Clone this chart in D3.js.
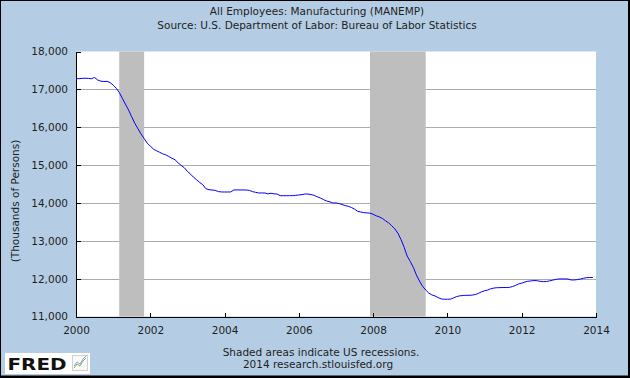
<!DOCTYPE html>
<html>
<head>
<meta charset="utf-8">
<script src="https://cdn.jsdelivr.net/npm/d3@7"></script>
<style>
  html, body { margin: 0; padding: 0; background: #fff; }
  svg { display: block; }
  text { font-family: "DejaVu Sans", Verdana, sans-serif; fill: #1e1e1e; }
</style>
</head>
<body>
<svg id="chart" width="630" height="378"></svg>
<script>
// ---- data ----
const titleLines = ["All Employees: Manufacturing (MANEMP)",
                    "Source: U.S. Department of Labor: Bureau of Labor Statistics"];
const footerLines = ["Shaded areas indicate US recessions.",
                     "2014 research.stlouisfed.org"];
const yLabel = "(Thousands of Persons)";
const seriesStart = "2000-01-01";   // monthly observations from here
const manemp = [
  // 2000
  17284, 17283, 17290, 17293, 17289, 17281, 17315, 17248, 17216, 17207, 17211, 17181,
  // 2001
  17110, 17026, 16920, 16763, 16610, 16455, 16280, 16105, 15960, 15824, 15700, 15580,
  // 2002
  15500, 15421, 15380, 15340, 15300, 15271, 15230, 15180, 15140, 15060, 14990, 14930,
  // 2003
  14832, 14760, 14680, 14613, 14540, 14482, 14376, 14350, 14340, 14332, 14300, 14290,
  // 2004
  14289, 14289, 14290, 14342, 14345, 14342, 14342, 14342, 14330, 14300, 14280, 14263,
  // 2005
  14263, 14263, 14240, 14255, 14240, 14235, 14192, 14190, 14192, 14192, 14192, 14200,
  // 2006
  14210, 14220, 14235, 14235, 14220, 14200, 14160, 14130, 14087, 14050, 14030, 14000,
  // 2007
  14000, 13982, 13960, 13929, 13912, 13880, 13840, 13780, 13760, 13745, 13737, 13730,
  // 2008
  13700, 13660, 13632, 13590, 13530, 13474, 13400, 13316, 13200, 13034, 12830, 12595,
  // 2009
  12450, 12290, 12100, 11937, 11800, 11700, 11620, 11570, 11542, 11500, 11465, 11455,
  // 2010
  11455, 11460, 11490, 11526, 11545, 11555, 11560, 11560, 11565, 11580, 11610, 11650,
  // 2011
  11680, 11700, 11730, 11750, 11760, 11763, 11765, 11765, 11768, 11790, 11820, 11860,
  // 2012
  11880, 11910, 11930, 11940, 11950, 11945, 11930, 11920, 11925, 11940, 11960, 11980,
  // 2013
  11992, 11992, 11992, 11990, 11965, 11965, 11975, 11990, 12010, 12026, 12030, 12030
];
const recessionStarts = ["2001-03-01", "2007-12-01"];
const recessionEnds   = ["2001-11-01", "2009-06-01"];
const xDomain = ["2000-01-01", "2014-01-01"];
const yDomain = [11000, 18000];
const yTicks = [11000, 12000, 13000, 14000, 15000, 16000, 17000, 18000];
const xTickYears = [2000, 2002, 2004, 2006, 2008, 2010, 2012, 2014];

// ---- layout ----
const W = 630, H = 378;
const L = 76, R = 596, T = 51.5, B = 316.5;
const parse = d3.utcParse("%Y-%m-%d");
const start = parse(seriesStart);
const data = manemp.map((v, i) => ({ date: d3.utcMonth.offset(start, i), value: v }));

const x = d3.scaleUtc().domain(xDomain.map(parse)).range([L, R]);
const y = d3.scaleLinear().domain(yDomain).range([B, T]);

const svg = d3.select("#chart");

// frame
svg.append("rect").attr("x", 0).attr("y", 0).attr("width", W).attr("height", H).attr("fill", "#000");
svg.append("rect").attr("x", 1).attr("y", 1).attr("width", 627).attr("height", 374.5).attr("fill", "#b4cde4");

// plot background
svg.append("rect").attr("x", L).attr("y", T).attr("width", R - L).attr("height", B - T).attr("fill", "#fff");

// gridlines
const grid = svg.append("g").attr("transform", `translate(${L},0)`)
  .call(d3.axisLeft(y).tickValues(yTicks.filter(t => t > yDomain[0] && t < yDomain[1]))
        .tickSize(-(R - L)).tickFormat(""));
grid.select(".domain").remove();
grid.selectAll("line").attr("stroke", "#ababab").attr("shape-rendering", "crispEdges");

// recessions
svg.append("g").selectAll("rect")
  .data(recessionStarts.map((s, i) => [parse(s), parse(recessionEnds[i])]))
  .join("rect")
  .attr("x", d => x(d[0]))
  .attr("width", d => x(d[1]) - x(d[0]))
  .attr("y", T).attr("height", B - T)
  .attr("fill", "#bebebe");

// line
svg.append("path")
  .datum(data)
  .attr("fill", "none")
  .attr("stroke", "#0000ff")
  .attr("stroke-width", 1)
  .attr("d", d3.line().x(d => x(d.date)).y(d => y(d.value)));

// left axis
const fmt = d3.format(",");
const ya = svg.append("g").attr("transform", `translate(${L},0)`)
  .call(d3.axisLeft(y).tickValues(yTicks).tickFormat(fmt).tickSizeInner(-5).tickSizeOuter(0).tickPadding(8));
ya.selectAll("text").attr("font-size", "10.5px").attr("font-family", "DejaVu Sans").attr("fill", "#1e1e1e");
ya.selectAll("line, path").attr("stroke", "#000").attr("shape-rendering", "crispEdges");

// bottom axis
const xa = svg.append("g").attr("transform", `translate(0,${B})`)
  .call(d3.axisBottom(x).tickValues(xTickYears.map(yy => new Date(Date.UTC(yy, 0, 1))))
        .tickFormat(d3.utcFormat("%Y")).tickSizeInner(-4).tickSizeOuter(0).tickPadding(10.5));
xa.selectAll("text").attr("font-size", "10.5px").attr("font-family", "DejaVu Sans").attr("fill", "#1e1e1e");
xa.selectAll("line, path").attr("stroke", "#000").attr("shape-rendering", "crispEdges");

// titles
svg.append("g").selectAll("text").data(titleLines).join("text")
  .attr("x", 317).attr("y", (d, i) => 15 + i * 13.5)
  .attr("text-anchor", "middle").attr("font-size", "10.5px").text(d => d);

// footer
svg.append("g").selectAll("text").data(footerLines).join("text")
  .attr("x", (d, i) => i === 0 ? 321 : 318).attr("y", (d, i) => 355.5 + i * 12.7)
  .attr("text-anchor", "middle").attr("font-size", "10.5px").text(d => d);

// y label
svg.append("text")
  .attr("transform", "translate(15,201) rotate(-90)")
  .attr("text-anchor", "middle").attr("dominant-baseline", "central")
  .attr("font-size", "10.5px").text(yLabel);

// FRED logo
const logo = svg.append("g");
logo.append("rect").attr("x", 5).attr("y", 353).attr("width", 85).attr("height", 21).attr("fill", "#fff");
logo.append("text").attr("x", 7.5).attr("y", 369.5)
  .attr("font-family", "DejaVu Sans").attr("font-weight", "bold").attr("font-size", "16.5px")
  .attr("textLength", 59).attr("lengthAdjust", "spacingAndGlyphs")
  .style("fill", "#111").text("FRED");
logo.append("rect").attr("x", 72.5).attr("y", 355.5).attr("width", 15).attr("height", 15)
  .attr("fill", "#fafafa").attr("stroke", "#d0d0d0");
logo.append("polyline").attr("points", "74,368 77,364 80,366 83,361 86,358")
  .attr("fill", "none").attr("stroke", "#7fb06a").attr("stroke-width", 1);
logo.append("polyline").attr("points", "74,366 77,362 80,364 83,359 86,356")
  .attr("fill", "none").attr("stroke", "#8aa0d0").attr("stroke-width", 1);
</script>
</body>
</html>
